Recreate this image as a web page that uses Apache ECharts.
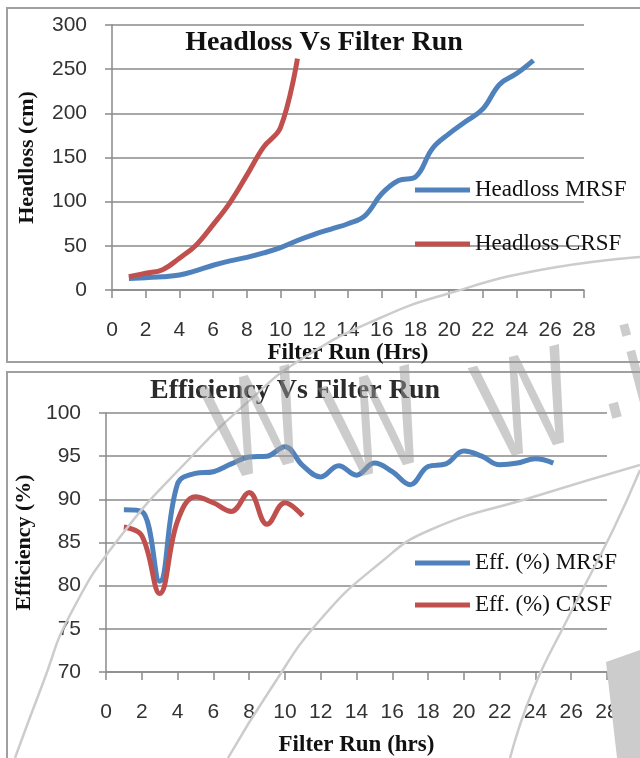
<!DOCTYPE html>
<html>
<head>
<meta charset="utf-8">
<script src="https://cdn.jsdelivr.net/npm/echarts@6/dist/echarts.min.js"></script>
<style>
  html, body { margin: 0; padding: 0; background: #ffffff; }
  #chart { width: 640px; height: 758px; }
</style>
</head>
<body>
<div id="chart"></div>
<script>
// Filter run time (hours)
const hoursMRSF = [1, 2, 3, 4, 5, 6, 7, 8, 9, 10, 11, 12, 13, 14, 15, 16, 17, 18, 19, 20, 21, 22, 23, 24, 25];
const hoursCRSF = [1, 2, 3, 4, 5, 6, 7, 8, 9, 10, 11];

// Headloss (cm)
const headlossMRSF = [13, 14, 15, 17, 22, 28, 33, 37, 42, 48, 56, 63, 69, 75, 84, 109, 124, 128, 160, 177, 191, 205, 233, 245, 260];
const headlossCRSF = [15, 19, 23, 36, 51, 74, 99, 130, 162, 184, 262];

// Removal efficiency (%)
const effMRSF = [88.8, 88.6, 80.5, 91.8, 93.0, 93.2, 94.1, 94.9, 95.0, 96.1, 93.9, 92.6, 93.9, 92.8, 94.2, 93.2, 91.7, 93.8, 94.1, 95.6, 95.0, 94.0, 94.2, 94.7, 94.2];
const effCRSF = [86.8, 85.8, 79.1, 87.5, 90.3, 89.6, 88.6, 90.8, 87.1, 89.6, 88.1];

// Axis ticks
const xTicks = { min: 0, max: 28, interval: 2 };
const headlossTicks = { min: 0, max: 300, interval: 50 };
const effTicks = { min: 70, max: 100, interval: 5 };

const BLUE = '#4f81bd';
const RED = '#c0504d';
const GRID_GRAY = '#8a8a8a';
const MARK_GRAY = '#cccccc';
const SERIF = '"Liberation Serif", "Times New Roman", serif';
const SANS = '"Liberation Sans", Arial, sans-serif';

const pairs = (xs, ys) => xs.map((x, i) => [x, ys[i]]);

function xAxisCfg(gridIndex, name, nameGap) {
  return {
    gridIndex, type: 'value', ...xTicks,
    name, nameLocation: 'middle', nameGap,
    nameTextStyle: { fontFamily: SERIF, fontWeight: 'bold', fontSize: 23, color: '#111' },
    axisLine: { show: true, lineStyle: { color: GRID_GRAY, width: 1.5 } },
    axisTick: { show: true, inside: false, length: 8, lineStyle: { color: GRID_GRAY, width: 1.5 } },
    axisLabel: { fontFamily: SANS, fontSize: 21, color: '#333', margin: 30 },
    splitLine: { show: false }
  };
}

function yAxisCfg(gridIndex, ticks, name, nameGap) {
  return {
    gridIndex, type: 'value', ...ticks,
    name, nameLocation: 'middle', nameGap,
    nameTextStyle: { fontFamily: SERIF, fontWeight: 'bold', fontSize: 22, color: '#111' },
    axisLine: { show: true, lineStyle: { color: GRID_GRAY, width: 1.5 } },
    axisTick: { show: true, inside: false, length: 7, lineStyle: { color: GRID_GRAY, width: 1.5 } },
    axisLabel: { fontFamily: SANS, fontSize: 21, color: '#333', margin: 25 },
    splitLine: { show: true, lineStyle: { color: GRID_GRAY, width: 1.5 } }
  };
}

function lineSeries(name, xi, yi, data, color) {
  return {
    name, type: 'line', xAxisIndex: xi, yAxisIndex: yi,
    data, smooth: 0.4, showSymbol: false, symbol: 'none',
    lineStyle: { color, width: 5 }, itemStyle: { color },
    emphasis: { disabled: true }
  };
}

function legendCfg(names, top, gap) {
  return {
    data: names, orient: 'vertical', left: 410, top, itemGap: gap,
    icon: 'rect', itemWidth: 55, itemHeight: 5,
    textStyle: { fontFamily: SERIF, fontSize: 23, color: '#111', lineHeight: 24 },
    selectedMode: false
  };
}

// light decorative strokes and the site mark laid over the page
function markCurve(points, width) {
  return { type: 'polyline', silent: true, z: 200,
    shape: { points, smooth: 0.5 },
    style: { fill: 'none', stroke: MARK_GRAY, lineWidth: width } };
}
function markGlyph(ch, x, y) {
  return { type: 'text', silent: true, z: 201, x, y, rotation: 0.26, scaleX: 0.72,
    style: { text: ch, fontFamily: SANS, fontSize: 140, fill: '#999999', opacity: 0.5,
             align: 'center', verticalAlign: 'middle' } };
}

const chart = echarts.init(document.getElementById('chart'), null, { renderer: 'canvas' });

chart.setOption({
  backgroundColor: '#ffffff',
  animation: false,
  grid: [
    { left: 112, right: 56, top: 25, bottom: 468 },
    { left: 106, right: 33, top: 413, bottom: 80 }
  ],
  xAxis: [
    xAxisCfg(0, 'Filter Run (Hrs)', 36),
    xAxisCfg(1, 'Filter Run (hrs)', 62)
  ],
  yAxis: [
    yAxisCfg(0, headlossTicks, 'Headloss (cm)', 74),
    yAxisCfg(1, effTicks, 'Efficiency (%)', 68)
  ],
  legend: [
    legendCfg(['Headloss MRSF', 'Headloss CRSF'], 173, 30),
    legendCfg(['Eff. (%) MRSF', 'Eff. (%) CRSF'], 546, 18)
  ],
  series: [
    lineSeries('Headloss MRSF', 0, 0, pairs(hoursMRSF, headlossMRSF), BLUE),
    lineSeries('Headloss CRSF', 0, 0, pairs(hoursCRSF, headlossCRSF), RED),
    lineSeries('Eff. (%) MRSF', 1, 1, pairs(hoursMRSF, effMRSF), BLUE),
    lineSeries('Eff. (%) CRSF', 1, 1, pairs(hoursCRSF, effCRSF), RED)
  ],
  graphic: [
    // panel frames
    { type: 'rect', z: -1, silent: true, shape: { x: 7, y: 8, width: 660, height: 354 },
      style: { fill: 'none', stroke: '#a0a0a0', lineWidth: 2 } },
    { type: 'rect', z: -1, silent: true, shape: { x: 7, y: 372, width: 660, height: 420 },
      style: { fill: 'none', stroke: '#a0a0a0', lineWidth: 2 } },
    // panel titles
    { type: 'text', silent: true, x: 324, y: 43,
      style: { text: 'Headloss Vs Filter Run', fontFamily: SERIF, fontWeight: 'bold', fontSize: 28,
               fill: '#111', align: 'center', verticalAlign: 'middle' } },
    { type: 'text', silent: true, x: 295, y: 391,
      style: { text: 'Efficiency Vs Filter Run', fontFamily: SERIF, fontWeight: 'bold', fontSize: 28,
               fill: '#2b2b2b', align: 'center', verticalAlign: 'middle' } },
    // site mark
    markCurve([[15, 758], [43, 683], [70, 615], [120, 537], [193, 455], [250, 400], [300, 360],
               [380, 318], [450, 293], [540, 270], [640, 257]], 2.5),
    markCurve([[228, 758], [270, 690], [320, 620], [380, 563], [430, 530], [533, 497], [640, 465]], 2.5),
    markCurve([[510, 758], [533, 690], [567, 620], [613, 530], [640, 470]], 2.5),
    { type: 'polygon', silent: true, z: 200,
      shape: { points: [[606, 662], [640, 650], [640, 758], [617, 758]] },
      style: { fill: MARK_GRAY } },
    markGlyph('W', 258, 432),
    markGlyph('W', 378, 432),
    markGlyph('W', 528, 412),
    markGlyph('.', 607, 380),
    markGlyph('i', 640, 385)
  ]
});
</script>
</body>
</html>
